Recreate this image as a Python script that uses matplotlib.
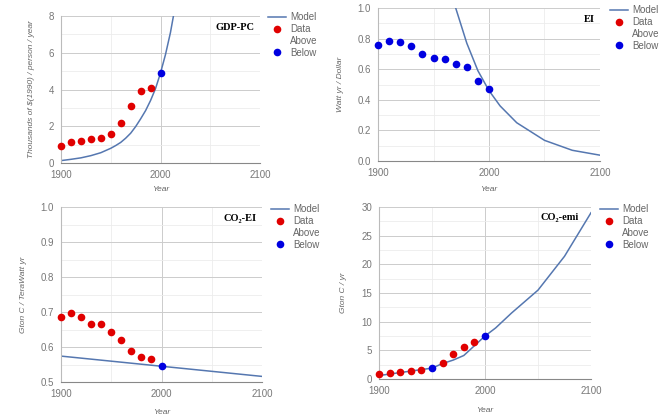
import matplotlib.pyplot as plt
from matplotlib.lines import Line2D

# data
data_years = [1900, 1910, 1920, 1930, 1940, 1950, 1960, 1970, 1980, 1990, 2000]

gdp_data = [0.95, 1.12, 1.2, 1.28, 1.38, 1.58, 2.15, 3.1, 3.92, 4.1, 4.9]
gdp_below = [False] * 10 + [True]
gdp_model_years = [1900, 1910, 1920, 1930, 1940, 1950, 1955, 1960, 1965, 1970, 1975,
                   1980, 1985, 1990, 1995, 2000, 2005, 2010, 2015]
gdp_model = [0.13, 0.2, 0.28, 0.4, 0.56, 0.8, 0.95, 1.12, 1.35, 1.62, 1.98,
             2.4, 2.85, 3.4, 4.05, 4.9, 5.9, 7.1, 8.6]

ei_data = [0.76, 0.785, 0.78, 0.75, 0.70, 0.675, 0.665, 0.635, 0.615, 0.52, 0.47]
ei_below = [True] * 11
ei_model_years = [1960, 1970, 1980, 1990, 2000, 2010, 2025, 2050, 2075, 2100]
ei_model = [1.3, 1.0, 0.77, 0.59, 0.46, 0.36, 0.25, 0.135, 0.07, 0.038]

co2ei_data = [0.686, 0.697, 0.686, 0.667, 0.667, 0.643, 0.621, 0.588, 0.571, 0.565, 0.545]
co2ei_below = [False] * 10 + [True]
co2ei_model_years = [1900, 2000, 2100]
co2ei_model = [0.574, 0.545, 0.516]

emi_data = [0.87, 1.1, 1.2, 1.4, 1.6, 1.9, 2.85, 4.3, 5.6, 6.4, 7.5]
emi_below = [False, False, False, False, False, True, False, False, False, False, True]
emi_model_years = [1900, 1950, 1960, 1970, 1980, 2000, 2010, 2025, 2050, 2075, 2100]
emi_model = [0.6, 1.9, 2.7, 3.3, 4.1, 7.5, 8.9, 11.5, 15.5, 21.4, 29.0]

RED = "#e00000"
BLUE = "#0000e0"
LINE = "#5577b0"
GRAY = "#666666"

plt.rcParams['font.family'] = ['Liberation Sans', 'DejaVu Sans']

fig = plt.figure(figsize=(6.64, 4.2), dpi=100)


def box(l, r, t, b):
    return [l / 664, 1 - b / 420, (r - l) / 664, (b - t) / 420]


def panel(rect, title, title_xy, ylabel, ylim, yticks, yminor, yfmt,
          data, below, myears, model, year_y, leg_xy):
    ax = fig.add_axes(rect)
    ax.plot(myears, model, color=LINE, lw=1.1, zorder=2)
    for yr, v, b in zip(data_years, data, below):
        ax.plot(yr, v, 'o', color=BLUE if b else RED, ms=5.5, mec='none',
                zorder=3, clip_on=False)
    ax.set_xlim(1900, 2100)
    ax.set_ylim(*ylim)
    ax.set_xticks([1900, 2000, 2100])
    ax.set_xticks([1950, 2050], minor=True)
    ax.set_yticks(yticks)
    ax.set_yticks(yminor, minor=True)
    ax.set_yticklabels([yfmt % v for v in yticks])
    ax.grid(True, which='major', color='#cccccc', lw=0.7)
    ax.grid(True, which='minor', color='#ececec', lw=0.6)
    ax.set_axisbelow(True)
    for s in ['top', 'right']:
        ax.spines[s].set_visible(False)
    ax.spines['left'].set_color('#bbbbbb')
    ax.spines['bottom'].set_color('#888888')
    ax.tick_params(which='both', length=0, labelsize=7, colors='#777777', pad=5)
    ax.set_ylabel(ylabel, fontsize=6, style='italic', color=GRAY, labelpad=10)
    x0, y0 = title_xy
    fig.text(x0 / 664, 1 - y0 / 420, title, fontsize=7.5, fontweight='bold',
             family=['Liberation Serif', 'DejaVu Serif'], ha='center', va='center')
    cx = (rect[0] + rect[2] / 2)
    fig.text(cx, 1 - year_y / 420, "Year", fontsize=6, style='italic', color=GRAY,
             ha='center', va='center')
    handles = [Line2D([], [], color=LINE, lw=1.1),
               Line2D([], [], ls='none', marker='o', color=RED, ms=5.5, mec='none'),
               Line2D([], [], ls='none'),
               Line2D([], [], ls='none', marker='o', color=BLUE, ms=5.5, mec='none')]
    lx, ly = leg_xy
    fig.legend(handles, ["Model", "Data", "Above", "Below"], loc='upper left',
               bbox_to_anchor=(lx / 664, 1 - ly / 420), frameon=False, fontsize=7,
               labelcolor=GRAY, handlelength=1.8, handletextpad=0.5,
               labelspacing=0.2, borderpad=0, borderaxespad=0)
    return ax


panel(box(61, 260, 16, 163), "GDP-PC", (235, 27),
      "Thousands of $(1990) / person / year", (0, 8), [0, 2, 4, 6, 8],
      [1, 3, 5, 7], "%d", gdp_data, gdp_below, gdp_model_years, gdp_model,
      190, (268, 12))

panel(box(378, 600, 8, 161), "EI", (589, 19),
      "Watt yr / Dollar", (0, 1.0), [0, 0.2, 0.4, 0.6, 0.8, 1.0],
      [0.1, 0.3, 0.5, 0.7, 0.9], "%.1f", ei_data, ei_below, ei_model_years, ei_model,
      190, (610, 5))

panel(box(61, 262, 207, 382), "CO₂-EI", (240, 218),
      "Gton C / TeraWatt yr", (0.5, 1.0), [0.5, 0.6, 0.7, 0.8, 0.9, 1.0],
      [0.55, 0.65, 0.75, 0.85, 0.95], "%.1f", co2ei_data, co2ei_below,
      co2ei_model_years, co2ei_model, 413, (271, 204))

panel(box(379, 591, 207, 379), "CO₂-emi", (560, 217),
      "Gton C / yr", (0, 30), [0, 5, 10, 15, 20, 25, 30],
      [2.5, 7.5, 12.5, 17.5, 22.5, 27.5], "%d", emi_data, emi_below,
      emi_model_years, emi_model, 411, (600, 204))

fig.savefig("out.png", dpi=100)
